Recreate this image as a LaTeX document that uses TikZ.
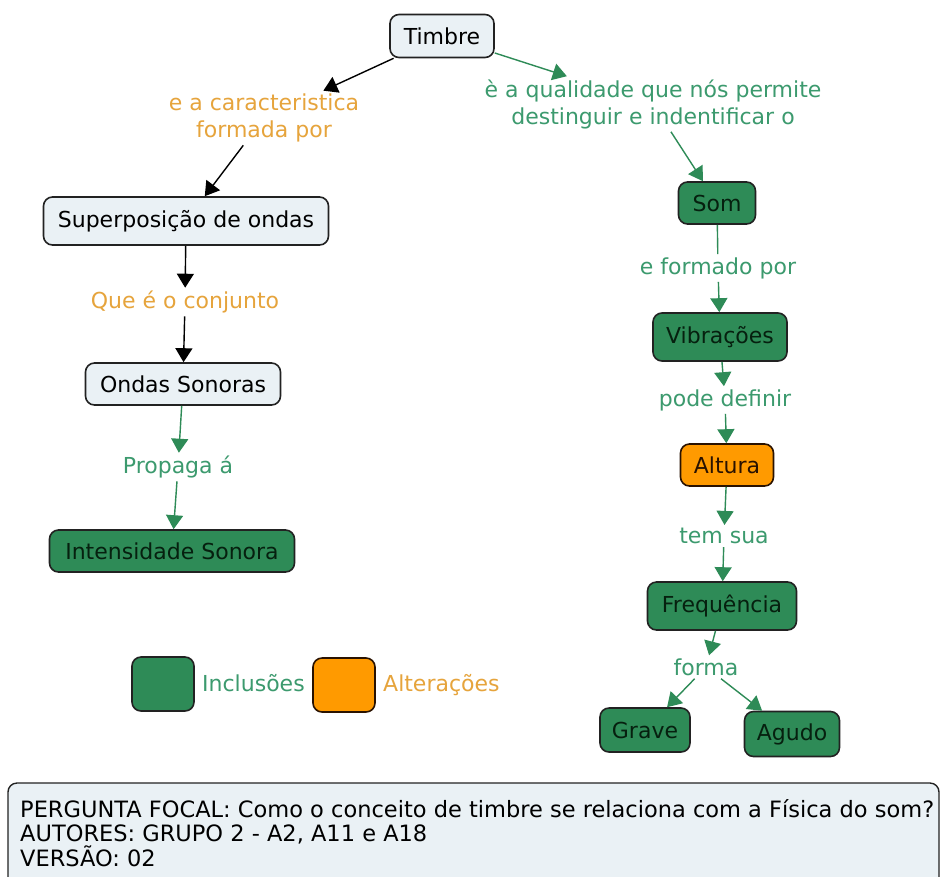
\documentclass[tikz,border=0pt]{standalone}
\usepackage{fontspec}
\setmainfont{DejaVu Sans}
\usetikzlibrary{arrows.meta}
\definecolor{cgreen}{HTML}{2E8B57}
\definecolor{lgreen}{HTML}{3C9A6E}
\definecolor{lorange}{HTML}{E6A43C}
\definecolor{corange}{HTML}{FF9A00}
\definecolor{cpale}{HTML}{EAF1F5}
\definecolor{cborder}{HTML}{222222}
\definecolor{gtext}{HTML}{06200F}
\definecolor{otext}{HTML}{2A1200}
\begin{document}
\begin{tikzpicture}[x=1pt,y=-1pt,
  every node/.style={font=\fontsize{22}{27}\selectfont, inner sep=0pt},
  concept/.style={draw=cborder, line width=1.6pt, rounded corners=9pt},
  pbox/.style={concept, fill=cpale, text=black},
  gbox/.style={concept, fill=cgreen, text=gtext},
  obox/.style={concept, fill=corange, draw=otext, text=otext},
  lab/.style={inner sep=3pt, align=center},
  olab/.style={lab, text=lorange},
  glab/.style={lab, text=lgreen},
  blk/.style={draw=black, line width=1.4pt, -{Triangle[length=14pt,width=17pt]}},
  grn/.style={draw=cgreen, line width=1.4pt, -{Triangle[length=14pt,width=17pt]}},
  gline/.style={draw=cgreen, line width=1.4pt},
]
\useasboundingbox (0,0) rectangle (941,876);
\clip (0,0) rectangle (941,876);
\fill[white] (0,0) rectangle (941,876);

% left branch
\node[pbox, minimum width=104pt, minimum height=43pt] (timbre) at (442,36) {Timbre};
\node[olab] (l1) at (264,118) {e a caracteristica\\formada por};
\node[pbox, minimum width=285pt, minimum height=48pt] (sup) at (186,221) {Superposição de ondas};
\node[olab] (l2) at (185,302) {Que é o conjunto};
\node[pbox, minimum width=195pt, minimum height=42pt] (ondas) at (183,384) {Ondas Sonoras};
\node[glab] (l3) at (178,467) {Propaga á};
\node[gbox, minimum width=245pt, minimum height=42pt] (int) at (172,551) {Intensidade Sonora};

% right branch
\node[glab] (l4) at (653,104) {è a qualidade que nós permite\\destinguir e indentificar o};
\node[gbox, minimum width=77pt, minimum height=42pt] (som) at (717,203) {Som};
\node[glab] (l5) at (718,268) {e formado por};
\node[gbox, minimum width=134pt, minimum height=48pt] (vib) at (720,337) {Vibrações};
\node[glab] (l6) at (725,400) {pode definir};
\node[obox, minimum width=93pt, minimum height=42pt] (alt) at (727,465) {Altura};
\node[glab] (l7) at (724,536) {tem sua};
\node[gbox, minimum width=149pt, minimum height=48pt] (freq) at (722,606) {Frequência};
\node[glab] (l8) at (706,667) {forma};
\node[gbox, minimum width=90pt, minimum height=44pt] (grave) at (645,730) {Grave};
\node[gbox, minimum width=95pt, minimum height=45pt] (agudo) at (792,734) {Agudo};

% connectors
\draw[blk] (timbre) -- (l1);
\draw[blk] (l1) -- (sup);
\draw[blk] (sup) -- (l2);
\draw[blk] (l2) -- (ondas);
\draw[grn] (ondas) -- (l3);
\draw[grn] (l3) -- (int);
\draw[grn] (timbre) -- (l4);
\draw[grn] (l4) -- (som);
\draw[gline] (som) -- (l5);
\draw[grn] (l5) -- (vib);
\draw[grn] (vib) -- (l6);
\draw[grn] (l6) -- (alt);
\draw[grn] (alt) -- (l7);
\draw[grn] (l7) -- (freq);
\draw[grn] (freq) -- (l8);
\draw[grn] (l8) -- (grave);
\draw[grn] (l8) -- (agudo);

% legend
\node[gbox, minimum width=62pt, minimum height=54pt] (lg) at (163,684) {};
\node[glab, anchor=west] (lgt) at (199,683) {Inclusões};
\node[obox, minimum width=62pt, minimum height=54pt] (lo) at (344,685) {};
\node[olab, anchor=west] (lot) at (380,685) {Alterações};

% focal question box
\draw[draw=cborder, line width=1.4pt, fill=cpale, rounded corners=9pt] (8,783) rectangle (939,900);
\node[anchor=north west, align=left, font=\fontsize{22.5}{24.5}\selectfont, text=black] (focal) at (20,799)
  {PERGUNTA FOCAL: Como o conceito de timbre se relaciona com a Física do som?\\AUTORES: GRUPO 2 - A2, A11 e A18\\VERSÃO: 02};
\end{tikzpicture}
\end{document}
